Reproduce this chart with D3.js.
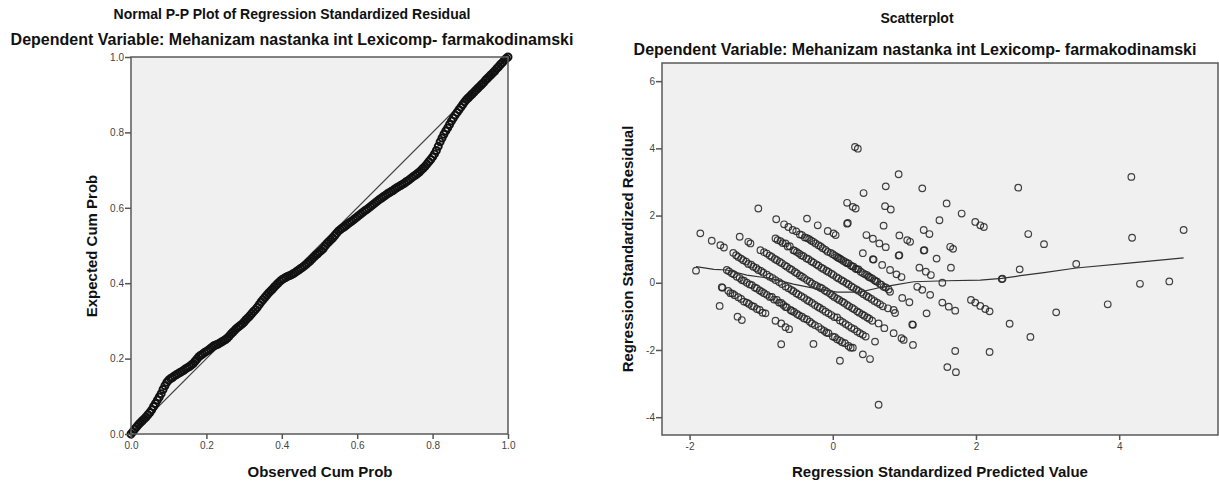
<!DOCTYPE html>
<html>
<head>
<meta charset="utf-8">
<script src="https://cdn.jsdelivr.net/npm/d3@7"></script>
<style>
  body { margin: 0; background: #fff; }
  svg { display: block; font-family: "Liberation Sans", Arial, sans-serif; }
  .tick text { fill: #444; font-size: 10px; }
  .tick line { stroke: #555; }
</style>
</head>
<body>
<svg id="chart" width="1219" height="482"></svg>
<script>
// P-P plot: observed vs expected cumulative probability
const ppObserved = [
  0.000,0.005,0.010,0.015,0.020,0.025,0.030,0.035,0.040,0.045,0.050,0.055,0.060,0.065,0.070,0.075,0.080,0.085,0.090,0.095,
  0.100,0.105,0.110,0.115,0.120,0.125,0.130,0.135,0.140,0.145,0.150,0.155,0.160,0.165,0.170,0.175,0.180,0.185,0.190,0.195,
  0.200,0.205,0.210,0.215,0.220,0.225,0.230,0.235,0.240,0.245,0.250,0.255,0.260,0.265,0.270,0.275,0.280,0.285,0.290,0.295,
  0.300,0.305,0.310,0.315,0.320,0.325,0.330,0.335,0.340,0.345,0.350,0.355,0.360,0.365,0.370,0.375,0.380,0.385,0.390,0.395,
  0.400,0.405,0.410,0.415,0.420,0.425,0.430,0.435,0.440,0.445,0.450,0.455,0.460,0.465,0.470,0.475,0.480,0.485,0.490,0.495,
  0.500,0.505,0.510,0.515,0.520,0.525,0.530,0.535,0.540,0.545,0.550,0.555,0.560,0.565,0.570,0.575,0.580,0.585,0.590,0.595,
  0.600,0.605,0.610,0.615,0.620,0.625,0.630,0.635,0.640,0.645,0.650,0.655,0.660,0.665,0.670,0.675,0.680,0.685,0.690,0.695,
  0.700,0.705,0.710,0.715,0.720,0.725,0.730,0.735,0.740,0.745,0.750,0.755,0.760,0.765,0.770,0.775,0.780,0.785,0.790,0.795,
  0.800,0.805,0.810,0.815,0.820,0.825,0.830,0.835,0.840,0.845,0.850,0.855,0.860,0.865,0.870,0.875,0.880,0.885,0.890,0.895,
  0.900,0.905,0.910,0.915,0.920,0.925,0.930,0.935,0.940,0.945,0.950,0.955,0.960,0.965,0.970,0.975,0.980,0.985,0.990,0.995,1.000];
const ppExpected = [
  0.000,0.006,0.013,0.019,0.025,0.030,0.035,0.040,0.045,0.051,0.057,0.064,0.073,0.081,0.090,0.098,0.107,0.118,0.128,0.137,
  0.143,0.147,0.150,0.154,0.157,0.160,0.163,0.166,0.169,0.173,0.176,0.179,0.183,0.187,0.193,0.199,0.205,0.209,0.212,0.216,
  0.219,0.222,0.226,0.230,0.234,0.236,0.238,0.241,0.244,0.247,0.250,0.254,0.259,0.265,0.270,0.275,0.280,0.284,0.288,0.292,
  0.297,0.303,0.308,0.313,0.319,0.325,0.330,0.336,0.343,0.350,0.356,0.362,0.368,0.374,0.379,0.384,0.390,0.395,0.400,0.405,
  0.409,0.412,0.415,0.418,0.420,0.422,0.425,0.428,0.432,0.435,0.439,0.442,0.446,0.450,0.455,0.459,0.464,0.469,0.474,0.478,
  0.483,0.487,0.492,0.499,0.505,0.510,0.515,0.520,0.526,0.532,0.538,0.542,0.546,0.549,0.553,0.557,0.561,0.564,0.568,0.572,
  0.576,0.580,0.584,0.588,0.592,0.595,0.599,0.603,0.607,0.611,0.615,0.619,0.623,0.626,0.630,0.633,0.637,0.640,0.643,0.646,
  0.650,0.653,0.656,0.659,0.662,0.665,0.669,0.672,0.676,0.680,0.684,0.687,0.691,0.695,0.700,0.705,0.710,0.716,0.722,0.728,
  0.735,0.743,0.752,0.763,0.775,0.785,0.795,0.804,0.812,0.821,0.830,0.838,0.846,0.853,0.860,0.867,0.874,0.881,0.887,0.892,
  0.897,0.902,0.907,0.912,0.917,0.922,0.927,0.932,0.938,0.943,0.948,0.953,0.958,0.963,0.969,0.974,0.980,0.985,0.991,0.996,1.000];
const ppTicks = [0, 0.2, 0.4, 0.6, 0.8, 1.0];

// scatterplot: [standardized predicted, standardized residual]
const residualPoints = [
  [-1.91,0.36],
  [-1.58,-0.69],[-1.33,-1.01],[-1.27,-1.11],[-0.72,-1.83],[0.64,-3.63],
  [-1.55,-0.13],[-1.54,-0.15],[-1.46,-0.24],[-1.43,-0.31],[-1.40,-0.32],[-1.37,-0.37],[-1.32,-0.43],[-1.28,-0.48],
  [-1.24,-0.56],[-1.20,-0.59],[-1.17,-0.63],[-1.13,-0.69],[-1.10,-0.71],[-1.06,-0.78],[-1.02,-0.81],[-0.98,-0.89],
  [-0.94,-0.91],[-0.80,-1.13],[-0.72,-1.21],[-0.66,-1.32],[-0.61,-1.38],[-0.27,-1.82],[0.10,-2.32],
  [-1.48,0.38],[-1.45,0.34],[-1.41,0.28],[-1.38,0.25],[-1.34,0.18],[-1.30,0.14],[-1.27,0.08],[-1.24,0.06],
  [-1.20,0.00],[-1.16,-0.05],[-1.13,-0.07],[-1.09,-0.14],[-1.06,-0.17],[-1.02,-0.23],[-0.99,-0.27],[-0.96,-0.31],
  [-0.92,-0.36],[-0.88,-0.42],[-0.85,-0.42],[-0.82,-0.50],[-0.78,-0.51],[-0.75,-0.59],[-0.72,-0.60],[-0.69,-0.66],
  [-0.66,-0.72],[-0.64,-0.73],[-0.59,-0.81],[-0.57,-0.84],[-0.54,-0.87],[-0.50,-0.93],[-0.47,-0.97],[-0.43,-1.01],
  [-0.40,-1.06],[-0.36,-1.09],[-0.32,-1.16],[-0.29,-1.21],[-0.25,-1.26],[-0.20,-1.31],[-0.16,-1.38],[-0.12,-1.43],
  [-0.09,-1.48],[-0.06,-1.50],[0.00,-1.60],[0.03,-1.62],[0.06,-1.68],[0.10,-1.72],[0.13,-1.77],[0.17,-1.80],
  [0.22,-1.88],[0.25,-1.93],[0.28,-1.93],[0.42,-2.13],[0.52,-2.27],
  [-1.85,1.47],[-1.69,1.25],[-1.57,1.12],[-1.52,1.05],[-1.39,0.89],[-1.35,0.82],[-1.32,0.77],[-1.28,0.72],
  [-1.25,0.67],[-1.21,0.63],[-1.18,0.56],[-1.14,0.54],[-1.11,0.48],[-1.07,0.44],[-1.04,0.38],[-1.00,0.35],
  [-0.97,0.30],[-0.92,0.24],[-0.88,0.18],[-0.84,0.14],[-0.80,0.08],[-0.75,0.02],[-0.71,-0.04],[-0.66,-0.11],
  [-0.62,-0.16],[-0.58,-0.21],[-0.55,-0.25],[-0.51,-0.31],[-0.48,-0.35],[-0.44,-0.40],[-0.40,-0.45],[-0.36,-0.51],
  [-0.33,-0.55],[-0.29,-0.60],[-0.25,-0.66],[-0.21,-0.71],[-0.18,-0.75],[-0.14,-0.80],[-0.10,-0.86],[-0.06,-0.91],
  [-0.02,-0.96],[0.02,-1.02],[0.06,-1.03],[0.10,-1.12],[0.14,-1.17],[0.18,-1.23],[0.22,-1.28],[0.26,-1.34],
  [0.30,-1.38],[0.34,-1.45],[0.38,-1.50],[0.42,-1.55],[0.46,-1.60],[0.59,-1.75],
  [-1.30,1.37],[-1.18,1.22],[-1.15,1.17],[-1.01,0.97],[-0.96,0.91],[-0.92,0.87],[-0.88,0.81],[-0.85,0.77],
  [-0.81,0.71],[-0.78,0.67],[-0.74,0.62],[-0.71,0.58],[-0.67,0.52],[-0.64,0.48],[-0.60,0.42],[-0.57,0.38],
  [-0.53,0.32],[-0.50,0.28],[-0.46,0.22],[-0.43,0.18],[-0.40,0.14],[-0.36,0.08],[-0.32,0.03],[-0.29,-0.02],
  [-0.25,-0.06],[-0.22,-0.10],[-0.18,-0.14],[-0.15,-0.17],[-0.11,-0.23],[-0.08,-0.27],[-0.04,-0.32],[-0.01,-0.37],
  [0.02,-0.42],[0.06,-0.47],[0.09,-0.51],[0.13,-0.56],[0.16,-0.60],[0.20,-0.66],[0.23,-0.70],[0.27,-0.75],
  [0.30,-0.79],[0.34,-0.85],[0.37,-0.89],[0.41,-0.94],[0.44,-0.98],[0.48,-1.03],[0.51,-1.07],[0.55,-1.13],
  [0.64,-1.21],[0.72,-1.35],[0.85,-1.50],[0.96,-1.65],[0.99,-1.70],[1.12,-1.85],
  [-0.80,1.32],[-0.77,1.27],[-0.73,1.24],[-0.70,1.18],[-0.66,1.17],[-0.63,1.08],[-0.60,1.09],[-0.55,0.97],
  [-0.53,0.95],[-0.50,0.91],[-0.47,0.87],[-0.44,0.82],[-0.41,0.79],[-0.37,0.73],[-0.34,0.70],[-0.30,0.64],
  [-0.27,0.60],[-0.23,0.55],[-0.20,0.51],[-0.16,0.45],[-0.13,0.41],[-0.09,0.36],[-0.06,0.32],[-0.02,0.27],
  [0.01,0.23],[0.05,0.17],[0.08,0.13],[0.12,0.08],[0.15,0.04],[0.19,-0.01],[0.22,-0.05],[0.26,-0.11],
  [0.29,-0.15],[0.33,-0.20],[0.36,-0.24],[0.40,-0.29],[0.43,-0.34],[0.47,-0.39],[0.50,-0.43],[0.54,-0.48],
  [0.58,-0.54],[0.62,-0.59],[0.66,-0.64],[0.70,-0.70],[0.77,-0.76],[0.85,-0.81],[0.87,-0.90],[1.11,-1.24],[1.12,-1.25],
  [-1.04,2.21],[-0.79,1.89],[-0.68,1.74],[-0.62,1.66],[-0.56,1.57],[-0.51,1.53],[-0.46,1.44],[-0.43,1.42],
  [-0.39,1.35],[-0.36,1.33],[-0.33,1.30],[-0.30,1.25],[-0.27,1.22],[-0.24,1.17],[-0.20,1.12],[-0.17,1.08],
  [-0.14,1.03],[-0.10,0.98],[-0.07,0.92],[-0.03,0.89],[0.00,0.85],[0.03,0.81],[0.06,0.77],[0.08,0.74],
  [0.10,0.72],[0.12,0.69],[0.15,0.65],[0.18,0.61],[0.20,0.58],[0.22,0.58],[0.25,0.52],[0.27,0.49],
  [0.29,0.48],[0.32,0.42],[0.34,0.40],[0.36,0.40],[0.39,0.33],[0.42,0.29],[0.45,0.25],[0.48,0.23],
  [0.50,0.18],[0.52,0.16],[0.55,0.13],[0.58,0.08],[0.60,0.05],[0.62,0.03],[0.66,-0.04],[0.68,-0.06],
  [0.71,-0.12],[0.74,-0.14],[0.78,-0.20],[0.80,-0.27],[0.97,-0.45],[1.07,-0.58],[1.31,-0.91],
  [-0.36,1.91],[-0.21,1.71],[-0.07,1.54],[0.01,1.47],[0.04,1.42],[0.42,0.88],[0.56,0.70],[0.57,0.69],
  [0.69,0.53],[0.80,0.38],[0.89,0.25],[0.96,0.17],[1.18,-0.12],[1.25,-0.21],[1.36,-0.36],[1.53,-0.59],
  [1.62,-0.71],[1.71,-0.83],
  [0.47,1.42],[0.56,1.31],[0.65,1.17],[0.74,1.06],[0.92,0.81],[0.93,0.82],[1.21,0.45],[1.30,0.33],
  [1.37,0.23],[1.53,0.00],[1.93,-0.51],[1.99,-0.59],[2.06,-0.69],[2.13,-0.78],[2.19,-0.85],[2.47,-1.22],[2.76,-1.61],
  [0.20,2.38],[0.28,2.26],[0.32,2.21],[0.71,1.70],[0.93,1.41],[1.04,1.27],[1.08,1.22],[1.45,0.72],[1.65,0.45],
  [0.31,4.04],[0.35,3.99],[0.92,3.23],[0.74,2.87],[1.25,2.81],[0.43,2.67],[2.59,2.83],[0.73,2.28],[0.81,2.18],
  [1.59,2.36],[1.80,2.06],[1.49,1.86],[1.99,1.81],[2.06,1.71],[2.11,1.66],[0.20,1.76],[0.21,1.78],[2.73,1.45],
  [1.27,1.57],[1.35,1.45],[1.27,0.96],[1.28,0.97],[1.64,1.07],[1.68,1.01],[2.61,0.40],[2.36,0.11],[2.37,0.12],
  [1.71,-2.03],[2.19,-2.06],[1.60,-2.51],[1.72,-2.66],
  [4.17,3.15],[4.18,1.34],[4.90,1.57],[4.70,0.04],[4.29,-0.03],[3.84,-0.64],[3.40,0.56],[3.12,-0.88],[2.95,1.15]
];
// loess fit line
const fitPredicted = [-1.91,-1.66,-1.48,-1.20,-0.87,-0.55,-0.27,0.06,0.38,0.66,0.85,1.13,1.59,2.06,2.36,2.62,2.95,3.40,4.17,4.90];
const fitResidual = [0.48,0.40,0.38,0.23,0.13,-0.04,-0.16,-0.28,-0.28,-0.14,-0.07,0.03,0.06,0.08,0.13,0.21,0.30,0.44,0.59,0.74];
const scXTicks = [-2, 0, 2, 4];
const scYTicks = [-4, -2, 0, 2, 4, 6];

const svg = d3.select('#chart');
const bg = '#f0f0f0';

function frame(x, y) {
  const [x0, x1] = x.range();
  const [y0, y1] = y.range();
  svg.append('rect')
    .attr('x', x0).attr('y', y1)
    .attr('width', x1 - x0).attr('height', y0 - y1)
    .attr('fill', bg);
}
function border(x, y) {
  const [x0, x1] = x.range();
  const [y0, y1] = y.range();
  svg.append('rect')
    .attr('x', x0).attr('y', y1)
    .attr('width', x1 - x0).attr('height', y0 - y1)
    .attr('fill', 'none').attr('stroke', '#5a5a5a').attr('stroke-width', 1.5);
}
function axes(x, y, xTicks, yTicks, fmt) {
  const gx = svg.append('g')
    .attr('transform', `translate(0,${y.range()[0]})`)
    .call(d3.axisBottom(x).tickValues(xTicks).tickFormat(fmt).tickSize(5).tickPadding(3));
  gx.select('.domain').remove();
  const gy = svg.append('g')
    .attr('transform', `translate(${x.range()[0]},0)`)
    .call(d3.axisLeft(y).tickValues(yTicks).tickFormat(fmt).tickSize(6).tickPadding(1));
  gy.select('.domain').remove();
  svg.selectAll('.tick line').attr('stroke-width', 1.5);
}
function text(x, y, s, size, rotate) {
  const t = svg.append('text')
    .attr('text-anchor', 'middle')
    .attr('font-size', size)
    .attr('font-weight', 'bold')
    .attr('fill', '#111')
    .text(s);
  if (rotate) t.attr('transform', `translate(${x},${y}) rotate(-90)`);
  else t.attr('x', x).attr('y', y);
}

// ---- left: Normal P-P plot ----
const ppX = d3.scaleLinear().domain([0, 1]).range([131, 508]);
const ppY = d3.scaleLinear().domain([0, 1]).range([434, 57]);
frame(ppX, ppY);
svg.append('line')
  .attr('x1', ppX(0)).attr('y1', ppY(0))
  .attr('x2', ppX(1)).attr('y2', ppY(1))
  .attr('stroke', '#444').attr('stroke-width', 1.2);
svg.append('g').selectAll('circle')
  .data(ppObserved.map((o, i) => [o, ppExpected[i]]))
  .join('circle')
  .attr('cx', d => ppX(d[0]))
  .attr('cy', d => ppY(d[1]))
  .attr('r', 3.5)
  .attr('fill', 'none')
  .attr('stroke', '#111')
  .attr('stroke-width', 2);
border(ppX, ppY);
axes(ppX, ppY, ppTicks, ppTicks, d3.format('.1f'));
text(292, 19, 'Normal P-P Plot of Regression Standardized Residual', 14);
text(292, 45, 'Dependent Variable: Mehanizam nastanka int Lexicomp- farmakodinamski', 16);
text(320, 477, 'Observed Cum Prob', 15);
text(97, 246, 'Expected Cum Prob', 15, true);

// ---- right: scatterplot ----
const scX = d3.scaleLinear().domain([-2.385, 5.38]).range([662, 1218]);
const scY = d3.scaleLinear().domain([-4.53, 6.54]).range([435, 63]);
frame(scX, scY);
svg.append('g').selectAll('circle')
  .data(residualPoints)
  .join('circle')
  .attr('cx', d => scX(d[0]))
  .attr('cy', d => scY(d[1]))
  .attr('r', 3.3)
  .attr('fill', 'none')
  .attr('stroke', '#222')
  .attr('stroke-opacity', 0.85)
  .attr('stroke-width', 1.2);
svg.append('path')
  .datum(fitPredicted.map((p, i) => [p, fitResidual[i]]))
  .attr('d', d3.line().x(d => scX(d[0])).y(d => scY(d[1])))
  .attr('fill', 'none')
  .attr('stroke', '#333')
  .attr('stroke-width', 1.2);
border(scX, scY);
axes(scX, scY, scXTicks, scYTicks, d => String(d));
text(917, 23, 'Scatterplot', 14);
text(915, 55, 'Dependent Variable: Mehanizam nastanka int Lexicomp- farmakodinamski', 16);
text(940, 477, 'Regression Standardized Predicted Value', 15);
text(633, 249, 'Regression Standardized Residual', 15, true);
</script>
</body>
</html>
